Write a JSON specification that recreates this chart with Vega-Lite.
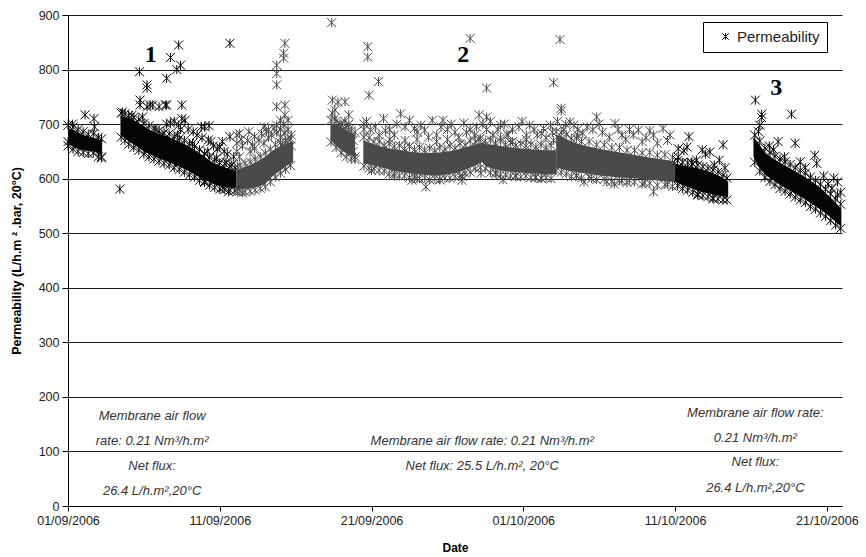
{
"$schema": "https://vega.github.io/schema/vega-lite/v6.json",
"width": 774, "height": 491,
"autosize": {"type": "none"},
"padding": {"left": 68, "top": 15, "right": 24, "bottom": 51},
"background": "white",
"config": {"font": "Liberation Sans", "view": {"stroke": null}},
"datasets": {
"band": [
{"t":"2006-09-01T00:00","p":693,"lo":664,"s":1,"g":"a"},
{"t":"2006-09-01T12:00","p":688,"lo":656,"s":1,"g":"a"},
{"t":"2006-09-02T00:00","p":680,"lo":652,"s":1,"g":"a"},
{"t":"2006-09-02T17:00","p":675,"lo":650,"s":1,"g":"a"},
{"t":"2006-09-03T06:00","p":670,"lo":643,"s":1,"g":"a"},
{"t":"2006-09-04T11:00","p":715,"lo":680,"s":2,"g":"a"},
{"t":"2006-09-05T00:00","p":712,"lo":668,"s":2,"g":"a"},
{"t":"2006-09-05T12:00","p":705,"lo":660,"s":2,"g":"a"},
{"t":"2006-09-06T00:00","p":696,"lo":650,"s":2,"g":"a"},
{"t":"2006-09-06T12:00","p":688,"lo":643,"s":2,"g":"a"},
{"t":"2006-09-07T00:00","p":682,"lo":637,"s":2,"g":"a"},
{"t":"2006-09-07T12:00","p":678,"lo":632,"s":2,"g":"a"},
{"t":"2006-09-08T00:00","p":672,"lo":626,"s":2,"g":"a"},
{"t":"2006-09-08T12:00","p":666,"lo":620,"s":2,"g":"a"},
{"t":"2006-09-09T00:00","p":659,"lo":613,"s":2,"g":"a"},
{"t":"2006-09-09T12:00","p":650,"lo":605,"s":2,"g":"a"},
{"t":"2006-09-10T00:00","p":640,"lo":598,"s":2,"g":"a"},
{"t":"2006-09-10T12:00","p":630,"lo":591,"s":2,"g":"a"},
{"t":"2006-09-11T00:00","p":624,"lo":586,"s":2,"g":"a"},
{"t":"2006-09-11T12:00","p":619,"lo":584,"s":2,"g":"a"},
{"t":"2006-09-12T02:00","p":615,"lo":583,"s":2,"g":"a"},
{"t":"2006-09-12T02:00","p":615,"lo":581,"s":3,"g":"b"},
{"t":"2006-09-12T12:00","p":620,"lo":581,"s":3,"g":"b"},
{"t":"2006-09-13T00:00","p":625,"lo":582,"s":3,"g":"b"},
{"t":"2006-09-13T12:00","p":632,"lo":585,"s":3,"g":"b"},
{"t":"2006-09-14T00:00","p":640,"lo":590,"s":3,"g":"b"},
{"t":"2006-09-14T12:00","p":652,"lo":605,"s":3,"g":"b"},
{"t":"2006-09-15T00:00","p":660,"lo":615,"s":3,"g":"b"},
{"t":"2006-09-15T12:00","p":666,"lo":625,"s":3,"g":"b"},
{"t":"2006-09-15T20:00","p":668,"lo":630,"s":3,"g":"b"},
{"t":"2006-09-18T07:00","p":702,"lo":672,"s":4,"g":"b"},
{"t":"2006-09-18T14:00","p":700,"lo":662,"s":4,"g":"b"},
{"t":"2006-09-19T00:00","p":695,"lo":652,"s":4,"g":"b"},
{"t":"2006-09-19T10:00","p":688,"lo":645,"s":4,"g":"b"},
{"t":"2006-09-19T22:00","p":680,"lo":640,"s":4,"g":"b"},
{"t":"2006-09-20T11:00","p":670,"lo":628,"s":5,"g":"b"},
{"t":"2006-09-21T00:00","p":665,"lo":625,"s":5,"g":"b"},
{"t":"2006-09-21T12:00","p":660,"lo":622,"s":5,"g":"b"},
{"t":"2006-09-22T00:00","p":656,"lo":618,"s":5,"g":"b"},
{"t":"2006-09-22T12:00","p":654,"lo":614,"s":5,"g":"b"},
{"t":"2006-09-23T00:00","p":652,"lo":612,"s":5,"g":"b"},
{"t":"2006-09-23T12:00","p":650,"lo":610,"s":5,"g":"b"},
{"t":"2006-09-24T00:00","p":648,"lo":608,"s":5,"g":"b"},
{"t":"2006-09-24T12:00","p":647,"lo":607,"s":5,"g":"b"},
{"t":"2006-09-25T00:00","p":647,"lo":606,"s":5,"g":"b"},
{"t":"2006-09-25T12:00","p":648,"lo":606,"s":5,"g":"b"},
{"t":"2006-09-26T00:00","p":650,"lo":608,"s":5,"g":"b"},
{"t":"2006-09-26T12:00","p":652,"lo":610,"s":5,"g":"b"},
{"t":"2006-09-27T00:00","p":656,"lo":614,"s":5,"g":"b"},
{"t":"2006-09-27T12:00","p":660,"lo":620,"s":5,"g":"b"},
{"t":"2006-09-28T00:00","p":664,"lo":626,"s":5,"g":"b"},
{"t":"2006-09-28T07:00","p":666,"lo":630,"s":5,"g":"b"},
{"t":"2006-09-28T14:00","p":663,"lo":622,"s":5,"g":"b"},
{"t":"2006-09-29T00:00","p":662,"lo":618,"s":5,"g":"b"},
{"t":"2006-09-29T12:00","p":660,"lo":615,"s":5,"g":"b"},
{"t":"2006-09-30T00:00","p":658,"lo":613,"s":5,"g":"b"},
{"t":"2006-09-30T12:00","p":656,"lo":612,"s":5,"g":"b"},
{"t":"2006-10-01T00:00","p":655,"lo":611,"s":5,"g":"b"},
{"t":"2006-10-01T12:00","p":654,"lo":610,"s":5,"g":"b"},
{"t":"2006-10-02T00:00","p":653,"lo":609,"s":5,"g":"b"},
{"t":"2006-10-02T12:00","p":652,"lo":608,"s":5,"g":"b"},
{"t":"2006-10-03T04:00","p":652,"lo":608,"s":5,"g":"b"},
{"t":"2006-10-03T04:00","p":680,"lo":620,"s":6,"g":"b"},
{"t":"2006-10-03T12:00","p":678,"lo":618,"s":6,"g":"b"},
{"t":"2006-10-04T00:00","p":670,"lo":614,"s":6,"g":"b"},
{"t":"2006-10-04T12:00","p":665,"lo":612,"s":6,"g":"b"},
{"t":"2006-10-05T00:00","p":661,"lo":610,"s":6,"g":"b"},
{"t":"2006-10-06T00:00","p":655,"lo":606,"s":6,"g":"b"},
{"t":"2006-10-07T00:00","p":650,"lo":603,"s":6,"g":"b"},
{"t":"2006-10-08T00:00","p":645,"lo":601,"s":6,"g":"b"},
{"t":"2006-10-09T00:00","p":640,"lo":599,"s":6,"g":"b"},
{"t":"2006-10-10T00:00","p":636,"lo":596,"s":6,"g":"b"},
{"t":"2006-10-11T00:00","p":632,"lo":594,"s":6,"g":"b"},
{"t":"2006-10-11T00:00","p":628,"lo":594,"s":7,"g":"a"},
{"t":"2006-10-11T12:00","p":624,"lo":588,"s":7,"g":"a"},
{"t":"2006-10-12T00:00","p":622,"lo":583,"s":7,"g":"a"},
{"t":"2006-10-12T12:00","p":619,"lo":578,"s":7,"g":"a"},
{"t":"2006-10-13T00:00","p":615,"lo":574,"s":7,"g":"a"},
{"t":"2006-10-13T12:00","p":610,"lo":571,"s":7,"g":"a"},
{"t":"2006-10-14T00:00","p":604,"lo":568,"s":7,"g":"a"},
{"t":"2006-10-14T12:00","p":594,"lo":566,"s":7,"g":"a"},
{"t":"2006-10-16T04:00","p":676,"lo":640,"s":8,"g":"a"},
{"t":"2006-10-16T10:00","p":668,"lo":626,"s":8,"g":"a"},
{"t":"2006-10-16T17:00","p":656,"lo":614,"s":8,"g":"a"},
{"t":"2006-10-17T00:00","p":646,"lo":606,"s":8,"g":"a"},
{"t":"2006-10-17T12:00","p":636,"lo":596,"s":8,"g":"a"},
{"t":"2006-10-18T00:00","p":628,"lo":587,"s":8,"g":"a"},
{"t":"2006-10-18T12:00","p":620,"lo":579,"s":8,"g":"a"},
{"t":"2006-10-19T00:00","p":612,"lo":571,"s":8,"g":"a"},
{"t":"2006-10-19T12:00","p":604,"lo":563,"s":8,"g":"a"},
{"t":"2006-10-20T00:00","p":595,"lo":554,"s":8,"g":"a"},
{"t":"2006-10-20T12:00","p":585,"lo":545,"s":8,"g":"a"},
{"t":"2006-10-21T00:00","p":572,"lo":535,"s":8,"g":"a"},
{"t":"2006-10-21T12:00","p":558,"lo":523,"s":8,"g":"a"},
{"t":"2006-10-21T23:00","p":545,"lo":512,"s":8,"g":"a"}
],
"pts": [
{"t":"2006-09-01T00:00","p":698,"g":"a"},{"t":"2006-09-01T08:00","p":695,"g":"a"},{"t":"2006-09-01T16:00","p":690,"g":"a"},{"t":"2006-09-02T00:00","p":686,"g":"a"},{"t":"2006-09-02T08:00","p":681,"g":"a"},{"t":"2006-09-02T16:00","p":682,"g":"a"},{"t":"2006-09-03T00:00","p":676,"g":"a"},{"t":"2006-09-03T05:00","p":673,"g":"a"},
{"t":"2006-09-01T00:00","p":660,"g":"a"},{"t":"2006-09-01T08:00","p":654,"g":"a"},{"t":"2006-09-01T16:00","p":650,"g":"a"},{"t":"2006-09-02T00:00","p":648,"g":"a"},{"t":"2006-09-02T08:00","p":646,"g":"a"},{"t":"2006-09-02T16:00","p":647,"g":"a"},{"t":"2006-09-03T00:00","p":640,"g":"a"},{"t":"2006-09-03T05:00","p":638,"g":"a"},
{"t":"2006-09-04T12:00","p":720,"g":"a"},{"t":"2006-09-04T18:00","p":719,"g":"a"},{"t":"2006-09-05T00:00","p":716,"g":"a"},{"t":"2006-09-05T08:00","p":712,"g":"a"},{"t":"2006-09-05T16:00","p":709,"g":"a"},{"t":"2006-09-06T00:00","p":701,"g":"a"},{"t":"2006-09-06T08:00","p":697,"g":"a"},{"t":"2006-09-06T16:00","p":692,"g":"a"},{"t":"2006-09-07T00:00","p":688,"g":"a"},{"t":"2006-09-07T08:00","p":684,"g":"a"},{"t":"2006-09-07T16:00","p":682,"g":"a"},{"t":"2006-09-08T00:00","p":677,"g":"a"},{"t":"2006-09-08T08:00","p":673,"g":"a"},{"t":"2006-09-08T16:00","p":670,"g":"a"},{"t":"2006-09-09T00:00","p":664,"g":"a"},{"t":"2006-09-09T08:00","p":659,"g":"a"},{"t":"2006-09-09T16:00","p":653,"g":"a"},{"t":"2006-09-10T00:00","p":646,"g":"a"},{"t":"2006-09-10T08:00","p":639,"g":"a"},{"t":"2006-09-10T16:00","p":634,"g":"a"},{"t":"2006-09-11T00:00","p":629,"g":"a"},{"t":"2006-09-11T08:00","p":627,"g":"a"},{"t":"2006-09-11T16:00","p":623,"g":"a"},{"t":"2006-09-12T00:00","p":620,"g":"a"},
{"t":"2006-09-04T12:00","p":676,"g":"a"},{"t":"2006-09-04T18:00","p":670,"g":"a"},{"t":"2006-09-05T00:00","p":663,"g":"a"},{"t":"2006-09-05T08:00","p":657,"g":"a"},{"t":"2006-09-05T16:00","p":652,"g":"a"},{"t":"2006-09-06T00:00","p":645,"g":"a"},{"t":"2006-09-06T08:00","p":640,"g":"a"},{"t":"2006-09-06T16:00","p":636,"g":"a"},{"t":"2006-09-07T00:00","p":632,"g":"a"},{"t":"2006-09-07T08:00","p":628,"g":"a"},{"t":"2006-09-07T16:00","p":625,"g":"a"},{"t":"2006-09-08T00:00","p":620,"g":"a"},{"t":"2006-09-08T08:00","p":617,"g":"a"},{"t":"2006-09-08T16:00","p":612,"g":"a"},{"t":"2006-09-09T00:00","p":607,"g":"a"},{"t":"2006-09-09T08:00","p":603,"g":"a"},{"t":"2006-09-09T16:00","p":597,"g":"a"},{"t":"2006-09-10T00:00","p":593,"g":"a"},{"t":"2006-09-10T08:00","p":588,"g":"a"},{"t":"2006-09-10T16:00","p":584,"g":"a"},{"t":"2006-09-11T00:00","p":581,"g":"a"},{"t":"2006-09-11T08:00","p":580,"g":"a"},{"t":"2006-09-11T16:00","p":579,"g":"a"},{"t":"2006-09-12T00:00","p":578,"g":"a"},
{"t":"2006-09-12T04:00","p":621,"g":"b"},{"t":"2006-09-12T08:00","p":624,"g":"b"},{"t":"2006-09-12T16:00","p":628,"g":"b"},{"t":"2006-09-13T00:00","p":631,"g":"b"},{"t":"2006-09-13T08:00","p":636,"g":"b"},{"t":"2006-09-13T16:00","p":641,"g":"b"},{"t":"2006-09-14T00:00","p":647,"g":"b"},{"t":"2006-09-14T08:00","p":654,"g":"b"},{"t":"2006-09-14T16:00","p":662,"g":"b"},{"t":"2006-09-15T00:00","p":666,"g":"b"},{"t":"2006-09-15T08:00","p":670,"g":"b"},{"t":"2006-09-15T16:00","p":673,"g":"b"},
{"t":"2006-09-12T04:00","p":576,"g":"b"},{"t":"2006-09-12T08:00","p":577,"g":"b"},{"t":"2006-09-12T16:00","p":576,"g":"b"},{"t":"2006-09-13T00:00","p":577,"g":"b"},{"t":"2006-09-13T08:00","p":579,"g":"b"},{"t":"2006-09-13T16:00","p":582,"g":"b"},{"t":"2006-09-14T00:00","p":585,"g":"b"},{"t":"2006-09-14T08:00","p":594,"g":"b"},{"t":"2006-09-14T16:00","p":603,"g":"b"},{"t":"2006-09-15T00:00","p":610,"g":"b"},{"t":"2006-09-15T08:00","p":617,"g":"b"},{"t":"2006-09-15T16:00","p":624,"g":"b"},
{"t":"2006-09-18T08:00","p":707,"g":"b"},{"t":"2006-09-18T16:00","p":705,"g":"b"},{"t":"2006-09-19T00:00","p":700,"g":"b"},{"t":"2006-09-19T08:00","p":694,"g":"b"},{"t":"2006-09-19T16:00","p":688,"g":"b"},{"t":"2006-09-19T22:00","p":685,"g":"b"},
{"t":"2006-09-18T08:00","p":667,"g":"b"},{"t":"2006-09-18T16:00","p":657,"g":"b"},{"t":"2006-09-19T00:00","p":647,"g":"b"},{"t":"2006-09-19T08:00","p":640,"g":"b"},{"t":"2006-09-19T16:00","p":637,"g":"b"},{"t":"2006-09-19T22:00","p":635,"g":"b"},
{"t":"2006-09-20T12:00","p":676,"g":"b"},{"t":"2006-09-20T20:00","p":675,"g":"b"},{"t":"2006-09-21T04:00","p":668,"g":"b"},{"t":"2006-09-21T12:00","p":668,"g":"b"},{"t":"2006-09-21T20:00","p":661,"g":"b"},{"t":"2006-09-22T04:00","p":664,"g":"b"},{"t":"2006-09-22T12:00","p":659,"g":"b"},{"t":"2006-09-22T20:00","p":661,"g":"b"},{"t":"2006-09-23T04:00","p":655,"g":"b"},{"t":"2006-09-23T12:00","p":659,"g":"b"},{"t":"2006-09-23T20:00","p":653,"g":"b"},{"t":"2006-09-24T04:00","p":657,"g":"b"},{"t":"2006-09-24T12:00","p":652,"g":"b"},{"t":"2006-09-24T20:00","p":656,"g":"b"},{"t":"2006-09-25T04:00","p":651,"g":"b"},{"t":"2006-09-25T12:00","p":657,"g":"b"},{"t":"2006-09-25T20:00","p":654,"g":"b"},{"t":"2006-09-26T04:00","p":660,"g":"b"},{"t":"2006-09-26T12:00","p":656,"g":"b"},{"t":"2006-09-26T20:00","p":664,"g":"b"},{"t":"2006-09-27T04:00","p":662,"g":"b"},{"t":"2006-09-27T12:00","p":669,"g":"b"},{"t":"2006-09-27T20:00","p":668,"g":"b"},{"t":"2006-09-28T04:00","p":674,"g":"b"},{"t":"2006-09-28T12:00","p":669,"g":"b"},{"t":"2006-09-28T20:00","p":671,"g":"b"},{"t":"2006-09-29T04:00","p":665,"g":"b"},{"t":"2006-09-29T12:00","p":669,"g":"b"},{"t":"2006-09-29T20:00","p":663,"g":"b"},{"t":"2006-09-30T04:00","p":666,"g":"b"},{"t":"2006-09-30T12:00","p":661,"g":"b"},{"t":"2006-09-30T20:00","p":664,"g":"b"},{"t":"2006-10-01T04:00","p":660,"g":"b"},{"t":"2006-10-01T12:00","p":663,"g":"b"},{"t":"2006-10-01T20:00","p":658,"g":"b"},{"t":"2006-10-02T04:00","p":662,"g":"b"},{"t":"2006-10-02T12:00","p":657,"g":"b"},{"t":"2006-10-02T20:00","p":661,"g":"b"},
{"t":"2006-09-20T12:00","p":623,"g":"b"},{"t":"2006-09-20T20:00","p":619,"g":"b"},{"t":"2006-09-21T04:00","p":618,"g":"b"},{"t":"2006-09-21T12:00","p":615,"g":"b"},{"t":"2006-09-21T20:00","p":614,"g":"b"},{"t":"2006-09-22T04:00","p":609,"g":"b"},{"t":"2006-09-22T12:00","p":609,"g":"b"},{"t":"2006-09-22T20:00","p":605,"g":"b"},{"t":"2006-09-23T04:00","p":605,"g":"b"},{"t":"2006-09-23T12:00","p":602,"g":"b"},{"t":"2006-09-23T20:00","p":603,"g":"b"},{"t":"2006-09-24T04:00","p":600,"g":"b"},{"t":"2006-09-24T12:00","p":601,"g":"b"},{"t":"2006-09-24T20:00","p":598,"g":"b"},{"t":"2006-09-25T04:00","p":600,"g":"b"},{"t":"2006-09-25T12:00","p":598,"g":"b"},{"t":"2006-09-25T20:00","p":601,"g":"b"},{"t":"2006-09-26T04:00","p":601,"g":"b"},{"t":"2006-09-26T12:00","p":604,"g":"b"},{"t":"2006-09-26T20:00","p":605,"g":"b"},{"t":"2006-09-27T04:00","p":610,"g":"b"},{"t":"2006-09-27T12:00","p":612,"g":"b"},{"t":"2006-09-27T20:00","p":618,"g":"b"},{"t":"2006-09-28T04:00","p":620,"g":"b"},{"t":"2006-09-28T12:00","p":618,"g":"b"},{"t":"2006-09-28T20:00","p":611,"g":"b"},{"t":"2006-09-29T04:00","p":611,"g":"b"},{"t":"2006-09-29T12:00","p":607,"g":"b"},{"t":"2006-09-29T20:00","p":607,"g":"b"},{"t":"2006-09-30T04:00","p":605,"g":"b"},{"t":"2006-09-30T12:00","p":606,"g":"b"},{"t":"2006-09-30T20:00","p":603,"g":"b"},{"t":"2006-10-01T04:00","p":605,"g":"b"},{"t":"2006-10-01T12:00","p":602,"g":"b"},{"t":"2006-10-01T20:00","p":603,"g":"b"},{"t":"2006-10-02T04:00","p":601,"g":"b"},{"t":"2006-10-02T12:00","p":602,"g":"b"},{"t":"2006-10-02T20:00","p":600,"g":"b"},
{"t":"2006-10-03T04:00","p":686,"g":"b"},{"t":"2006-10-03T12:00","p":684,"g":"b"},{"t":"2006-10-03T20:00","p":681,"g":"b"},{"t":"2006-10-04T04:00","p":674,"g":"b"},{"t":"2006-10-04T12:00","p":674,"g":"b"},{"t":"2006-10-04T20:00","p":668,"g":"b"},{"t":"2006-10-05T08:00","p":668,"g":"b"},{"t":"2006-10-05T20:00","p":662,"g":"b"},{"t":"2006-10-06T08:00","p":662,"g":"b"},{"t":"2006-10-06T20:00","p":657,"g":"b"},{"t":"2006-10-07T08:00","p":657,"g":"b"},{"t":"2006-10-07T20:00","p":652,"g":"b"},{"t":"2006-10-08T08:00","p":652,"g":"b"},{"t":"2006-10-08T20:00","p":647,"g":"b"},{"t":"2006-10-09T08:00","p":648,"g":"b"},{"t":"2006-10-09T20:00","p":643,"g":"b"},{"t":"2006-10-10T08:00","p":644,"g":"b"},{"t":"2006-10-10T20:00","p":639,"g":"b"},
{"t":"2006-10-03T04:00","p":615,"g":"b"},{"t":"2006-10-03T12:00","p":612,"g":"b"},{"t":"2006-10-03T20:00","p":609,"g":"b"},{"t":"2006-10-04T04:00","p":604,"g":"b"},{"t":"2006-10-04T12:00","p":606,"g":"b"},{"t":"2006-10-04T20:00","p":601,"g":"b"},{"t":"2006-10-05T08:00","p":603,"g":"b"},{"t":"2006-10-05T20:00","p":598,"g":"b"},{"t":"2006-10-06T08:00","p":599,"g":"b"},{"t":"2006-10-06T20:00","p":595,"g":"b"},{"t":"2006-10-07T08:00","p":596,"g":"b"},{"t":"2006-10-07T20:00","p":593,"g":"b"},{"t":"2006-10-08T08:00","p":594,"g":"b"},{"t":"2006-10-08T20:00","p":590,"g":"b"},{"t":"2006-10-09T08:00","p":592,"g":"b"},{"t":"2006-10-09T20:00","p":588,"g":"b"},{"t":"2006-10-10T08:00","p":589,"g":"b"},{"t":"2006-10-10T20:00","p":586,"g":"b"},
{"t":"2006-10-11T04:00","p":633,"g":"a"},{"t":"2006-10-11T12:00","p":630,"g":"a"},{"t":"2006-10-11T20:00","p":629,"g":"a"},{"t":"2006-10-12T04:00","p":627,"g":"a"},{"t":"2006-10-12T12:00","p":625,"g":"a"},{"t":"2006-10-12T20:00","p":622,"g":"a"},{"t":"2006-10-13T04:00","p":619,"g":"a"},{"t":"2006-10-13T12:00","p":616,"g":"a"},{"t":"2006-10-13T20:00","p":612,"g":"a"},{"t":"2006-10-14T04:00","p":606,"g":"a"},{"t":"2006-10-14T10:00","p":601,"g":"a"},
{"t":"2006-10-11T04:00","p":587,"g":"a"},{"t":"2006-10-11T12:00","p":582,"g":"a"},{"t":"2006-10-11T20:00","p":579,"g":"a"},{"t":"2006-10-12T04:00","p":575,"g":"a"},{"t":"2006-10-12T12:00","p":572,"g":"a"},{"t":"2006-10-12T20:00","p":569,"g":"a"},{"t":"2006-10-13T04:00","p":567,"g":"a"},{"t":"2006-10-13T12:00","p":565,"g":"a"},{"t":"2006-10-13T20:00","p":563,"g":"a"},{"t":"2006-10-14T04:00","p":561,"g":"a"},{"t":"2006-10-14T10:00","p":561,"g":"a"},
{"t":"2006-10-16T06:00","p":680,"g":"a"},{"t":"2006-10-16T14:00","p":669,"g":"a"},{"t":"2006-10-16T22:00","p":656,"g":"a"},{"t":"2006-10-17T06:00","p":648,"g":"a"},{"t":"2006-10-17T14:00","p":641,"g":"a"},{"t":"2006-10-17T22:00","p":636,"g":"a"},{"t":"2006-10-18T06:00","p":631,"g":"a"},{"t":"2006-10-18T14:00","p":626,"g":"a"},{"t":"2006-10-18T22:00","p":620,"g":"a"},{"t":"2006-10-19T06:00","p":615,"g":"a"},{"t":"2006-10-19T14:00","p":610,"g":"a"},{"t":"2006-10-19T22:00","p":603,"g":"a"},{"t":"2006-10-20T06:00","p":597,"g":"a"},{"t":"2006-10-20T14:00","p":590,"g":"a"},{"t":"2006-10-20T22:00","p":581,"g":"a"},{"t":"2006-10-21T06:00","p":572,"g":"a"},{"t":"2006-10-21T14:00","p":563,"g":"a"},{"t":"2006-10-21T22:00","p":553,"g":"a"},
{"t":"2006-10-16T06:00","p":630,"g":"a"},{"t":"2006-10-16T14:00","p":614,"g":"a"},{"t":"2006-10-16T22:00","p":602,"g":"a"},{"t":"2006-10-17T06:00","p":595,"g":"a"},{"t":"2006-10-17T14:00","p":589,"g":"a"},{"t":"2006-10-17T22:00","p":582,"g":"a"},{"t":"2006-10-18T06:00","p":577,"g":"a"},{"t":"2006-10-18T14:00","p":572,"g":"a"},{"t":"2006-10-18T22:00","p":566,"g":"a"},{"t":"2006-10-19T06:00","p":561,"g":"a"},{"t":"2006-10-19T14:00","p":556,"g":"a"},{"t":"2006-10-19T22:00","p":549,"g":"a"},{"t":"2006-10-20T06:00","p":544,"g":"a"},{"t":"2006-10-20T14:00","p":537,"g":"a"},{"t":"2006-10-20T22:00","p":531,"g":"a"},{"t":"2006-10-21T06:00","p":523,"g":"a"},{"t":"2006-10-21T14:00","p":515,"g":"a"},{"t":"2006-10-21T22:00","p":509,"g":"a"},
{"t":"2006-09-09T20:00","p":675,"g":"a"},{"t":"2006-09-10T10:00","p":668,"g":"a"},{"t":"2006-09-10T20:00","p":655,"g":"a"},{"t":"2006-09-11T04:00","p":668,"g":"a"},{"t":"2006-09-11T12:00","p":645,"g":"a"},
{"t":"2006-09-12T10:00","p":672,"g":"b"},{"t":"2006-09-13T04:00","p":662,"g":"b"},{"t":"2006-09-13T18:00","p":683,"g":"b"},{"t":"2006-09-14T14:00","p":692,"g":"b"},{"t":"2006-09-15T03:00","p":660,"g":"b"},
{"t":"2006-09-20T16:00","p":705,"g":"b"},{"t":"2006-09-21T06:00","p":695,"g":"b"},{"t":"2006-09-21T22:00","p":688,"g":"b"},{"t":"2006-09-22T16:00","p":700,"g":"b"},{"t":"2006-09-23T20:00","p":692,"g":"b"},{"t":"2006-09-24T06:00","p":698,"g":"b"},{"t":"2006-09-24T18:00","p":676,"g":"b"},{"t":"2006-09-25T14:00","p":695,"g":"b"},{"t":"2006-09-26T06:00","p":700,"g":"b"},{"t":"2006-09-26T18:00","p":676,"g":"b"},{"t":"2006-09-27T06:00","p":685,"g":"b"},{"t":"2006-09-27T22:00","p":695,"g":"b"},{"t":"2006-09-28T08:00","p":700,"g":"b"},{"t":"2006-09-28T20:00","p":705,"g":"b"},{"t":"2006-09-29T08:00","p":690,"g":"b"},{"t":"2006-09-29T18:00","p":700,"g":"b"},{"t":"2006-09-30T00:00","p":680,"g":"b"},{"t":"2006-09-30T22:00","p":705,"g":"b"},{"t":"2006-10-01T10:00","p":698,"g":"b"},{"t":"2006-10-01T22:00","p":680,"g":"b"},{"t":"2006-10-02T08:00","p":692,"g":"b"},{"t":"2006-10-02T22:00","p":685,"g":"b"},
{"t":"2006-10-03T06:00","p":705,"g":"b"},{"t":"2006-10-03T16:00","p":690,"g":"b"},{"t":"2006-10-04T08:00","p":698,"g":"b"},{"t":"2006-10-04T22:00","p":683,"g":"b"},{"t":"2006-10-05T14:00","p":690,"g":"b"},{"t":"2006-10-06T00:00","p":700,"g":"b"},{"t":"2006-10-06T16:00","p":676,"g":"b"},{"t":"2006-10-07T06:00","p":690,"g":"b"},{"t":"2006-10-07T18:00","p":672,"g":"b"},{"t":"2006-10-08T06:00","p":680,"g":"b"},{"t":"2006-10-08T20:00","p":668,"g":"b"},{"t":"2006-10-09T08:00","p":688,"g":"b"},{"t":"2006-10-09T20:00","p":665,"g":"b"},{"t":"2006-10-10T16:00","p":680,"g":"b"},
{"t":"2006-09-29T16:00","p":598,"g":"b"},{"t":"2006-10-05T00:00","p":594,"g":"b"},{"t":"2006-10-07T00:00","p":590,"g":"b"},
{"t":"2006-09-01T00:00","p":668,"g":"a"},
{"t":"2006-09-01T07:00","p":700,"g":"a"},
{"t":"2006-09-02T03:00","p":717,"g":"a"},
{"t":"2006-09-02T17:00","p":710,"g":"a"},
{"t":"2006-09-02T18:00","p":695,"g":"a"},
{"t":"2006-09-03T05:00","p":640,"g":"a"},
{"t":"2006-09-04T10:00","p":581,"g":"a"},
{"t":"2006-09-04T14:00","p":722,"g":"a"},
{"t":"2006-09-05T05:00","p":716,"g":"a"},
{"t":"2006-09-05T17:00","p":796,"g":"a"},
{"t":"2006-09-05T18:00","p":744,"g":"a"},
{"t":"2006-09-05T18:00","p":735,"g":"a"},
{"t":"2006-09-05T22:00","p":713,"g":"a"},
{"t":"2006-09-06T05:00","p":772,"g":"a"},
{"t":"2006-09-06T05:00","p":766,"g":"a"},
{"t":"2006-09-06T05:00","p":732,"g":"a"},
{"t":"2006-09-06T10:00","p":735,"g":"a"},
{"t":"2006-09-06T14:00","p":735,"g":"a"},
{"t":"2006-09-06T19:00","p":690,"g":"a"},
{"t":"2006-09-07T00:00","p":732,"g":"a"},
{"t":"2006-09-07T05:00","p":680,"g":"a"},
{"t":"2006-09-07T10:00","p":735,"g":"a"},
{"t":"2006-09-07T12:00","p":784,"g":"a"},
{"t":"2006-09-07T12:00","p":700,"g":"a"},
{"t":"2006-09-07T12:00","p":735,"g":"a"},
{"t":"2006-09-07T18:00","p":822,"g":"a"},
{"t":"2006-09-07T18:00","p":702,"g":"a"},
{"t":"2006-09-08T00:00","p":705,"g":"a"},
{"t":"2006-09-08T04:00","p":800,"g":"a"},
{"t":"2006-09-08T05:00","p":680,"g":"a"},
{"t":"2006-09-08T07:00","p":845,"g":"a"},
{"t":"2006-09-08T07:00","p":698,"g":"a"},
{"t":"2006-09-08T10:00","p":808,"g":"a"},
{"t":"2006-09-08T10:00","p":690,"g":"a"},
{"t":"2006-09-08T12:00","p":735,"g":"a"},
{"t":"2006-09-08T12:00","p":710,"g":"a"},
{"t":"2006-09-08T17:00","p":707,"g":"a"},
{"t":"2006-09-08T22:00","p":690,"g":"a"},
{"t":"2006-09-09T05:00","p":665,"g":"a"},
{"t":"2006-09-09T06:00","p":686,"g":"a"},
{"t":"2006-09-09T12:00","p":680,"g":"a"},
{"t":"2006-09-09T19:00","p":695,"g":"a"},
{"t":"2006-09-10T00:00","p":695,"g":"a"},
{"t":"2006-09-10T05:00","p":650,"g":"a"},
{"t":"2006-09-10T06:00","p":671,"g":"a"},
{"t":"2006-09-10T07:00","p":697,"g":"a"},
{"t":"2006-09-10T14:00","p":660,"g":"a"},
{"t":"2006-09-10T19:00","p":638,"g":"a"},
{"t":"2006-09-10T00:00","p":595,"g":"a"},
{"t":"2006-09-11T00:00","p":658,"g":"a"},
{"t":"2006-09-11T07:00","p":650,"g":"a"},
{"t":"2006-09-11T10:00","p":630,"g":"a"},
{"t":"2006-09-11T05:00","p":583,"g":"a"},
{"t":"2006-09-11T14:00","p":576,"g":"a"},
{"t":"2006-09-11T16:00","p":848,"g":"a"},
{"t":"2006-09-11T16:00","p":677,"g":"a"},
{"t":"2006-09-11T19:00","p":625,"g":"a"},
{"t":"2006-09-11T22:00","p":640,"g":"a"},
{"t":"2006-09-12T03:00","p":680,"g":"b"},
{"t":"2006-09-12T03:00","p":665,"g":"b"},
{"t":"2006-09-12T03:00","p":650,"g":"b"},
{"t":"2006-09-12T07:00","p":683,"g":"b"},
{"t":"2006-09-12T07:00","p":640,"g":"b"},
{"t":"2006-09-12T12:00","p":574,"g":"b"},
{"t":"2006-09-12T12:00","p":660,"g":"b"},
{"t":"2006-09-12T20:00","p":670,"g":"b"},
{"t":"2006-09-12T22:00","p":686,"g":"b"},
{"t":"2006-09-13T00:00","p":650,"g":"b"},
{"t":"2006-09-13T07:00","p":677,"g":"b"},
{"t":"2006-09-13T07:00","p":655,"g":"b"},
{"t":"2006-09-13T14:00","p":670,"g":"b"},
{"t":"2006-09-14T02:00","p":686,"g":"b"},
{"t":"2006-09-13T22:00","p":695,"g":"b"},
{"t":"2006-09-13T22:00","p":665,"g":"b"},
{"t":"2006-09-14T05:00","p":675,"g":"b"},
{"t":"2006-09-14T05:00","p":690,"g":"b"},
{"t":"2006-09-14T10:00","p":680,"g":"b"},
{"t":"2006-09-14T18:00","p":808,"g":"b"},
{"t":"2006-09-14T18:00","p":793,"g":"b"},
{"t":"2006-09-14T18:00","p":772,"g":"b"},
{"t":"2006-09-14T18:00","p":732,"g":"b"},
{"t":"2006-09-14T18:00","p":698,"g":"b"},
{"t":"2006-09-14T18:00","p":685,"g":"b"},
{"t":"2006-09-15T00:00","p":707,"g":"b"},
{"t":"2006-09-15T00:00","p":690,"g":"b"},
{"t":"2006-09-15T00:00","p":675,"g":"b"},
{"t":"2006-09-15T05:00","p":830,"g":"b"},
{"t":"2006-09-15T05:00","p":821,"g":"b"},
{"t":"2006-09-15T05:00","p":700,"g":"b"},
{"t":"2006-09-15T07:00","p":848,"g":"b"},
{"t":"2006-09-15T07:00","p":735,"g":"b"},
{"t":"2006-09-15T07:00","p":717,"g":"b"},
{"t":"2006-09-15T07:00","p":685,"g":"b"},
{"t":"2006-09-15T12:00","p":707,"g":"b"},
{"t":"2006-09-15T12:00","p":690,"g":"b"},
{"t":"2006-09-15T12:00","p":672,"g":"b"},
{"t":"2006-09-15T17:00","p":680,"g":"b"},
{"t":"2006-09-15T17:00","p":660,"g":"b"},
{"t":"2006-09-18T09:00","p":886,"g":"b"},
{"t":"2006-09-18T10:00","p":744,"g":"b"},
{"t":"2006-09-18T10:00","p":720,"g":"b"},
{"t":"2006-09-18T14:00","p":726,"g":"b"},
{"t":"2006-09-18T14:00","p":710,"g":"b"},
{"t":"2006-09-18T19:00","p":740,"g":"b"},
{"t":"2006-09-18T22:00","p":700,"g":"b"},
{"t":"2006-09-19T06:00","p":741,"g":"b"},
{"t":"2006-09-19T06:00","p":705,"g":"b"},
{"t":"2006-09-19T12:00","p":717,"g":"b"},
{"t":"2006-09-19T12:00","p":700,"g":"b"},
{"t":"2006-09-19T12:00","p":690,"g":"b"},
{"t":"2006-09-19T19:00","p":670,"g":"b"},
{"t":"2006-09-19T19:00","p":650,"g":"b"},
{"t":"2006-09-19T22:00","p":640,"g":"b"},
{"t":"2006-09-20T12:00","p":690,"g":"b"},
{"t":"2006-09-20T12:00","p":700,"g":"b"},
{"t":"2006-09-20T18:00","p":842,"g":"b"},
{"t":"2006-09-20T18:00","p":823,"g":"b"},
{"t":"2006-09-20T20:00","p":753,"g":"b"},
{"t":"2006-09-20T22:00","p":690,"g":"b"},
{"t":"2006-09-21T11:00","p":778,"g":"b"},
{"t":"2006-09-21T12:00","p":680,"g":"b"},
{"t":"2006-09-21T00:00","p":615,"g":"b"},
{"t":"2006-09-21T19:00","p":710,"g":"b"},
{"t":"2006-09-22T05:00","p":690,"g":"b"},
{"t":"2006-09-22T05:00","p":672,"g":"b"},
{"t":"2006-09-22T12:00","p":680,"g":"b"},
{"t":"2006-09-22T12:00","p":605,"g":"b"},
{"t":"2006-09-22T22:00","p":719,"g":"b"},
{"t":"2006-09-23T05:00","p":695,"g":"b"},
{"t":"2006-09-23T05:00","p":670,"g":"b"},
{"t":"2006-09-23T12:00","p":707,"g":"b"},
{"t":"2006-09-23T16:00","p":597,"g":"b"},
{"t":"2006-09-24T00:00","p":685,"g":"b"},
{"t":"2006-09-24T00:00","p":672,"g":"b"},
{"t":"2006-09-24T00:00","p":600,"g":"b"},
{"t":"2006-09-24T12:00","p":689,"g":"b"},
{"t":"2006-09-24T14:00","p":585,"g":"b"},
{"t":"2006-09-25T00:00","p":707,"g":"b"},
{"t":"2006-09-25T07:00","p":680,"g":"b"},
{"t":"2006-09-25T07:00","p":668,"g":"b"},
{"t":"2006-09-25T12:00","p":598,"g":"b"},
{"t":"2006-09-25T17:00","p":707,"g":"b"},
{"t":"2006-09-26T00:00","p":690,"g":"b"},
{"t":"2006-09-26T00:00","p":672,"g":"b"},
{"t":"2006-09-26T12:00","p":685,"g":"b"},
{"t":"2006-09-26T23:00","p":597,"g":"b"},
{"t":"2006-09-27T00:00","p":604,"g":"b"},
{"t":"2006-09-27T02:00","p":702,"g":"b"},
{"t":"2006-09-27T12:00","p":857,"g":"b"},
{"t":"2006-09-27T12:00","p":690,"g":"b"},
{"t":"2006-09-27T19:00","p":680,"g":"b"},
{"t":"2006-09-28T02:00","p":717,"g":"b"},
{"t":"2006-09-28T02:00","p":672,"g":"b"},
{"t":"2006-09-28T05:00","p":610,"g":"b"},
{"t":"2006-09-28T14:00","p":766,"g":"b"},
{"t":"2006-09-28T14:00","p":713,"g":"b"},
{"t":"2006-09-28T14:00","p":690,"g":"b"},
{"t":"2006-09-29T00:00","p":680,"g":"b"},
{"t":"2006-09-29T05:00","p":608,"g":"b"},
{"t":"2006-09-29T12:00","p":698,"g":"b"},
{"t":"2006-09-29T12:00","p":675,"g":"b"},
{"t":"2006-09-29T22:00","p":682,"g":"b"},
{"t":"2006-09-30T07:00","p":690,"g":"b"},
{"t":"2006-09-30T07:00","p":668,"g":"b"},
{"t":"2006-09-30T12:00","p":604,"g":"b"},
{"t":"2006-09-30T17:00","p":695,"g":"b"},
{"t":"2006-10-01T05:00","p":680,"g":"b"},
{"t":"2006-10-01T05:00","p":672,"g":"b"},
{"t":"2006-10-01T17:00","p":690,"g":"b"},
{"t":"2006-10-01T19:00","p":602,"g":"b"},
{"t":"2006-10-02T05:00","p":683,"g":"b"},
{"t":"2006-10-02T05:00","p":600,"g":"b"},
{"t":"2006-10-02T12:00","p":675,"g":"b"},
{"t":"2006-10-02T19:00","p":698,"g":"b"},
{"t":"2006-10-03T00:00","p":776,"g":"b"},
{"t":"2006-10-03T00:00","p":670,"g":"b"},
{"t":"2006-10-03T10:00","p":855,"g":"b"},
{"t":"2006-10-03T12:00","p":729,"g":"b"},
{"t":"2006-10-03T12:00","p":724,"g":"b"},
{"t":"2006-10-03T19:00","p":700,"g":"b"},
{"t":"2006-10-04T02:00","p":704,"g":"b"},
{"t":"2006-10-04T14:00","p":690,"g":"b"},
{"t":"2006-10-04T14:00","p":680,"g":"b"},
{"t":"2006-10-04T12:00","p":605,"g":"b"},
{"t":"2006-10-05T05:00","p":695,"g":"b"},
{"t":"2006-10-05T12:00","p":600,"g":"b"},
{"t":"2006-10-05T20:00","p":713,"g":"b"},
{"t":"2006-10-06T05:00","p":685,"g":"b"},
{"t":"2006-10-06T12:00","p":594,"g":"b"},
{"t":"2006-10-07T01:00","p":701,"g":"b"},
{"t":"2006-10-07T12:00","p":680,"g":"b"},
{"t":"2006-10-07T12:00","p":596,"g":"b"},
{"t":"2006-10-08T00:00","p":690,"g":"b"},
{"t":"2006-10-08T00:00","p":597,"g":"b"},
{"t":"2006-10-08T14:00","p":689,"g":"b"},
{"t":"2006-10-09T02:00","p":675,"g":"b"},
{"t":"2006-10-09T00:00","p":592,"g":"b"},
{"t":"2006-10-09T14:00","p":576,"g":"b"},
{"t":"2006-10-09T14:00","p":680,"g":"b"},
{"t":"2006-10-10T05:00","p":692,"g":"b"},
{"t":"2006-10-10T12:00","p":670,"g":"b"},
{"t":"2006-10-10T12:00","p":590,"g":"b"},
{"t":"2006-10-11T05:00","p":640,"g":"a"},
{"t":"2006-10-11T05:00","p":655,"g":"a"},
{"t":"2006-10-11T14:00","p":651,"g":"a"},
{"t":"2006-10-11T19:00","p":658,"g":"a"},
{"t":"2006-10-11T22:00","p":677,"g":"a"},
{"t":"2006-10-12T02:00","p":630,"g":"a"},
{"t":"2006-10-12T10:00","p":634,"g":"a"},
{"t":"2006-10-12T19:00","p":653,"g":"a"},
{"t":"2006-10-13T00:00","p":645,"g":"a"},
{"t":"2006-10-13T07:00","p":649,"g":"a"},
{"t":"2006-10-13T14:00","p":625,"g":"a"},
{"t":"2006-10-13T22:00","p":634,"g":"a"},
{"t":"2006-10-14T04:00","p":662,"g":"a"},
{"t":"2006-10-14T07:00","p":620,"g":"a"},
{"t":"2006-10-12T12:00","p":570,"g":"a"},
{"t":"2006-10-13T12:00","p":563,"g":"a"},
{"t":"2006-10-16T07:00","p":744,"g":"a"},
{"t":"2006-10-16T12:00","p":686,"g":"a"},
{"t":"2006-10-16T14:00","p":698,"g":"a"},
{"t":"2006-10-16T17:00","p":718,"g":"a"},
{"t":"2006-10-16T17:00","p":712,"g":"a"},
{"t":"2006-10-17T05:00","p":660,"g":"a"},
{"t":"2006-10-17T12:00","p":653,"g":"a"},
{"t":"2006-10-17T19:00","p":668,"g":"a"},
{"t":"2006-10-18T05:00","p":640,"g":"a"},
{"t":"2006-10-18T16:00","p":718,"g":"a"},
{"t":"2006-10-18T22:00","p":665,"g":"a"},
{"t":"2006-10-19T06:00","p":631,"g":"a"},
{"t":"2006-10-19T14:00","p":620,"g":"a"},
{"t":"2006-10-20T05:00","p":643,"g":"a"},
{"t":"2006-10-20T08:00","p":628,"g":"a"},
{"t":"2006-10-20T19:00","p":605,"g":"a"},
{"t":"2006-10-21T02:00","p":590,"g":"a"},
{"t":"2006-10-21T11:00","p":601,"g":"a"},
{"t":"2006-10-21T08:00","p":582,"g":"a"},
{"t":"2006-10-21T17:00","p":594,"g":"a"},
{"t":"2006-10-21T17:00","p":570,"g":"a"},
{"t":"2006-10-21T22:00","p":575,"g":"a"}
],
"notes": [
{"t":"2006-09-06T13:00","p":165,"txt":"Membrane air flow"},
{"t":"2006-09-06T13:00","p":119,"txt":"rate: 0.21 Nm³/h.m²"},
{"t":"2006-09-06T13:00","p":73,"txt":"Net flux:"},
{"t":"2006-09-06T13:00","p":27,"txt":"26.4 L/h.m²,20°C"},
{"t":"2006-09-28T07:00","p":119,"txt":"Membrane air flow rate: 0.21 Nm³/h.m²"},
{"t":"2006-09-28T07:00","p":73,"txt":"Net flux: 25.5 L/h.m², 20°C"},
{"t":"2006-10-16T07:00","p":170,"txt":"Membrane air flow rate:"},
{"t":"2006-10-16T07:00","p":125,"txt":"0.21 Nm³/h.m²"},
{"t":"2006-10-16T07:00","p":81,"txt":"Net flux:"},
{"t":"2006-10-16T07:00","p":33,"txt":"26.4 L/h.m²,20°C"}
],
"phases": [
{"t":"2006-09-06T11:00","p":827,"txt":"1"},
{"t":"2006-09-27T01:00","p":826,"txt":"2"},
{"t":"2006-10-17T16:00","p":766,"txt":"3"}
]
},
"encoding": {
"x": {"field": "t", "type": "temporal",
 "scale": {"domain": [{"year":2006,"month":9,"date":1},{"year":2006,"month":10,"date":22}]},
 "axis": {"title": "Date", "values": [{"year":2006,"month":9,"date":1},{"year":2006,"month":9,"date":11},{"year":2006,"month":9,"date":21},{"year":2006,"month":10,"date":1},{"year":2006,"month":10,"date":11},{"year":2006,"month":10,"date":21}],
  "format": "%d/%m/%Y", "grid": false, "domainColor": "black", "tickColor": "black", "tickSize": 5,
  "labelFontSize": 12.5, "labelColor": "#222", "labelPadding": 3, "labelFlush": false, "labelOverlap": false,
  "titleFontSize": 12, "titleFontWeight": "bold", "titleColor": "black", "titlePadding": 16}},
"y": {"field": "p", "type": "quantitative",
 "scale": {"domain": [0, 900]},
 "axis": {"title": "Permeability (L/h.m ² .bar, 20°C)", "values": [0,100,200,300,400,500,600,700,800,900],
  "grid": true, "gridColor": "#1a1a1a", "gridWidth": 1, "domainColor": "black", "tickColor": "black", "tickSize": 6,
  "labelFontSize": 12.5, "labelColor": "#222", "labelPadding": 3,
  "titleFontSize": 12.5, "titleFontWeight": "bold", "titleColor": "black", "titlePadding": 15}}
},
"layer": [
{"data": {"values": [{"t":"2006-09-12T02:00"}]},
 "mark": {"type": "rule", "color": "black", "strokeWidth": 1},
 "encoding": {"y": {"datum": 0, "type": "quantitative"}, "y2": {"datum": 900}}},
{"data": {"values": [{"t":"2006-10-11T00:00"},{"t":"2006-10-22T00:00"}]},
 "mark": {"type": "rule", "color": "#808080", "strokeWidth": 1},
 "encoding": {"y": {"datum": 0, "type": "quantitative"}, "y2": {"datum": 900}}},
{"data": {"name": "band"},
 "mark": {"type": "area", "opacity": 1},
 "encoding": {"y2": {"field": "lo"}, "detail": {"field": "s", "type": "nominal"},
  "color": {"field": "g", "type": "nominal", "scale": {"domain": ["a","b"], "range": ["#050505","#4a4a4a"]}, "legend": null}}},
{"data": {"name": "pts"},
 "mark": {"type": "point", "filled": false, "strokeWidth": 1, "opacity": 1, "size": 81},
 "encoding": {
  "color": {"field": "g", "type": "nominal", "scale": {"domain": ["a","b"], "range": ["#050505","#4a4a4a"]}, "legend": null},
  "shape": {"datum": "Permeability", "type": "nominal",
   "scale": {"range": ["M-1,-1L1,1M-1,1L1,-1M0,-1L0,1"]},
   "legend": {"orient": "none", "legendX": 635, "legendY": 7, "title": null, "strokeColor": "black", "fillColor": "white",
    "padding": 7, "symbolOffset": 8, "labelFontSize": 15, "labelFont": "Liberation Sans", "labelColor": "#222",
    "symbolStrokeColor": "black", "symbolStrokeWidth": 1, "symbolSize": 42, "symbolFillColor": "transparent", "cornerRadius": 0}}}},
{"data": {"name": "notes"},
 "mark": {"type": "text", "font": "Liberation Sans", "fontStyle": "italic", "fontSize": 13, "color": "#333", "align": "center", "baseline": "middle"},
 "encoding": {"text": {"field": "txt"}}},
{"data": {"name": "phases"},
 "mark": {"type": "text", "font": "Liberation Serif", "fontWeight": "bold", "fontSize": 24, "color": "black", "align": "center", "baseline": "middle"},
 "encoding": {"text": {"field": "txt"}}}
]
}
